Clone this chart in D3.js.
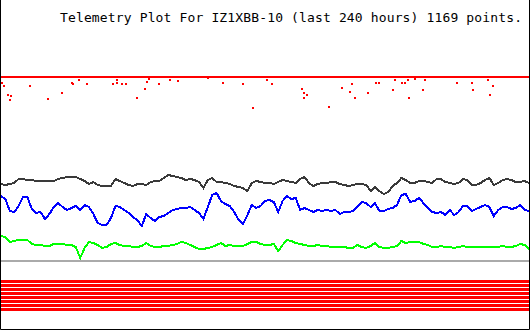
<!DOCTYPE html>
<html>
<head>
<meta charset="utf-8">
<script src="https://cdn.jsdelivr.net/npm/d3@7"></script>
<style>
  body { margin: 0; background: #fff; }
  svg { display: block; }
  .title { font-family: 'DejaVu Sans Mono', monospace; font-size: 13px; fill: #000; }
</style>
</head>
<body>
<svg width="530" height="330"></svg>
<script>
// one sample every 2 hours, 0..240 h
const step = 2;

// channel 1: almost flat, with scattered low readings
const ch1Level = 184;
const ch1Dips = [
  [0.5,178],[1.4,175],[3.2,166],[4.5,165],[4.1,161],[13.2,175],[21.4,162],[27.7,168],
  [32.3,178],[32.7,177],[35.5,181],[39.1,177],[50.9,177],[52.7,178],[52.7,181],[55,177],
  [56.8,177],[61.8,163],[65.5,172],[66.4,179],[67.3,182],[71.8,177],[76.8,181],[80.5,180],
  [94.1,183],[100.9,178],[110,177],[114.5,153],[120.9,181],[123.2,177],[136.8,172],
  [137.7,168],[139.1,166],[137.7,163],[149.1,154],[155,173],[158.6,169],[159.5,177],
  [160.9,163],[166.8,168],[170.5,178],[171.8,178],[178.2,171],[179.1,181],[182.3,178],
  [183.6,178],[185,181],[185.5,163],[188.2,182],[191.8,171],[192.7,181],[207.3,178],
  [214.1,178],[214.5,171],[221.4,181],[222.3,166],[223.6,175],[235.9,184]
];

// channel 2 (dark)
const ch2 = [77,76,77,78,82,82,81,81,80,80,80,80,80,82,83,84,84,84,82,80,
  77,79,76,75,75,75,82,80,78,76,75,77,77,76,79,80,80,83,86,85,
  84,83,81,82,81,79,73,81,83,79,79,78,77,75,74,73,70,78,80,79,
  78,78,77,79,81,80,79,78,82,84,78,75,77,78,78,79,79,77,76,75,
  76,77,77,76,70,74,70,67,69,75,78,83,81,78,78,80,80,79,78,82,
  82,79,78,77,78,82,81,76,76,78,81,83,76,78,81,82,81,79,79,80,78];

// channel 3 (blue)
const ch3 = [65,62,50,49,55,64,64,52,48,49,42,47,54,58,54,51,53,55,51,56,
  54,47,38,36,36,43,55,54,51,48,44,41,35,47,43,40,44,45,48,51,
  52,53,53,54,51,48,42,54,66,68,60,57,55,49,41,37,46,56,53,55,
  60,61,59,49,60,65,62,63,51,53,51,49,51,50,51,50,51,47,49,49,
  50,54,59,58,54,58,50,50,52,53,56,66,67,59,60,63,58,53,49,48,
  49,46,51,46,49,55,55,50,52,54,56,54,45,51,54,54,52,53,56,51,50];

// channel 4 (green)
const ch4 = [25,24,19,20,21,21,21,17,16,16,15,15,17,17,17,16,16,14,3,13,
  19,18,16,13,14,17,18,16,15,15,14,14,15,18,15,14,14,15,15,16,
  17,19,18,16,14,12,12,13,14,16,18,15,16,15,15,15,17,19,19,17,
  16,16,17,10,16,21,20,18,17,16,15,15,16,15,15,14,14,14,14,13,
  13,16,14,13,15,18,14,13,13,14,15,20,18,19,19,19,17,16,14,14,
  15,14,14,13,14,15,14,14,14,14,14,14,14,14,15,14,14,15,17,16,12];

// channel 5 (grey), flat
const ch5Level = 0;

// digital bits, all on
const bits = [1,1,1,1,1,1,1,1];

const title = 'Telemetry Plot For IZ1XBB-10 (last 240 hours) 1169 points.';

const width = 530, height = 330;
const svg = d3.select('svg');

const x = d3.scaleLinear().domain([0, 240]).range([1, 529]);
const y = d3.scaleLinear().domain([0, 255]).range([261, 6]);
const bitY = d3.scaleBand().domain(d3.range(bits.length)).range([280, 312]);

const line = d3.line()
  .x((d, i) => x(i * step))
  .y(d => y(d));

svg.append('rect')
  .attr('width', width)
  .attr('height', height)
  .attr('fill', '#fff');

// bits
svg.selectAll('rect.bit')
  .data(bits.map((b, i) => ({ b, i })).filter(d => d.b))
  .enter()
  .append('rect')
  .attr('class', 'bit')
  .attr('x', x(0))
  .attr('width', x(240) - x(0))
  .attr('y', d => bitY(d.i))
  .attr('height', bitY.bandwidth() - 1)
  .attr('fill', '#ff0000');

// grey channel
svg.append('line')
  .attr('x1', x(0)).attr('x2', x(240))
  .attr('y1', y(ch5Level)).attr('y2', y(ch5Level))
  .attr('stroke', '#aaaaaa')
  .attr('stroke-width', 2)
  .attr('shape-rendering', 'crispEdges');

const series = [
  { values: ch4, color: '#00ff00' },
  { values: ch3, color: '#0000ff' },
  { values: ch2, color: '#3a3a3a' }
];

svg.selectAll('path.series')
  .data(series)
  .enter()
  .append('path')
  .attr('class', 'series')
  .attr('d', d => line(d.values))
  .attr('fill', 'none')
  .attr('stroke', d => d.color)
  .attr('stroke-width', 2)
  .attr('shape-rendering', 'crispEdges');

// channel 1
svg.append('line')
  .attr('x1', x(0)).attr('x2', x(240))
  .attr('y1', y(ch1Level)).attr('y2', y(ch1Level))
  .attr('stroke', '#ff0000')
  .attr('stroke-width', 2)
  .attr('shape-rendering', 'crispEdges');

svg.selectAll('rect.dip')
  .data(ch1Dips)
  .enter()
  .append('rect')
  .attr('class', 'dip')
  .attr('x', d => Math.round(x(d[0])) - 1)
  .attr('y', d => Math.round(y(d[1])) - 1)
  .attr('width', 2)
  .attr('height', 2)
  .attr('fill', '#ff0000');

// frame: left, right, bottom
svg.append('path')
  .attr('d', `M0.5,0V329.5H529.5V0`)
  .attr('fill', 'none')
  .attr('stroke', '#000')
  .attr('stroke-width', 1);

svg.append('text')
  .attr('class', 'title')
  .attr('x', 60)
  .attr('y', 22)
  .attr('textLength', 462)
  .attr('lengthAdjust', 'spacing')
  .text(title);
</script>
</body>
</html>
